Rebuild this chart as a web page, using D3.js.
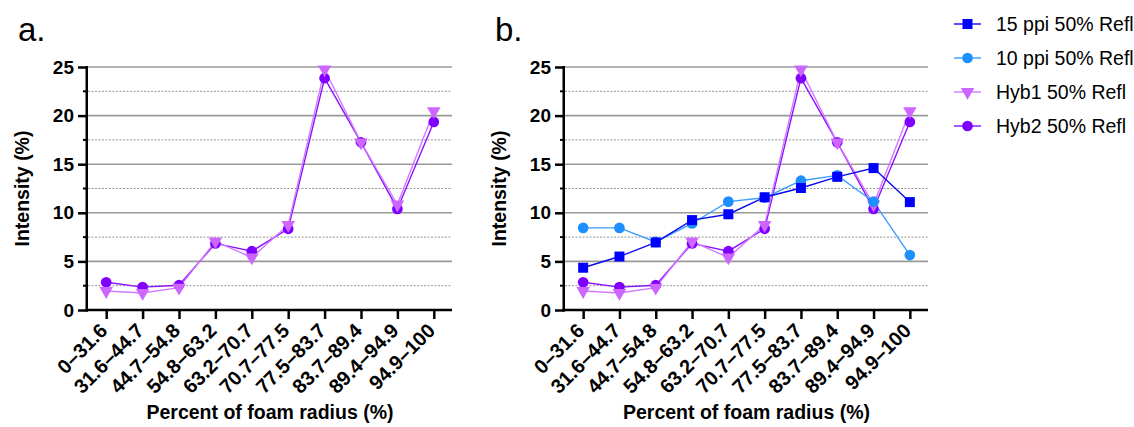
<!DOCTYPE html>
<html>
<head>
<meta charset="utf-8">
<script src="https://cdn.jsdelivr.net/npm/d3@7"></script>
<style>
  body { margin: 0; background: #fff; }
  svg text { font-family: "Liberation Sans", Arial, Helvetica, sans-serif; }
</style>
</head>
<body>
<svg id="chart" width="1134" height="427"></svg>
<script>
// bins of foam radius
const categories = ["0–31.6", "31.6–44.7", "44.7–54.8", "54.8–63.2", "63.2–70.7",
                    "70.7–77.5", "77.5–83.7", "83.7–89.4", "89.4–94.9", "94.9–100"];

const ppi15 = [4.35, 5.5, 6.95, 9.25, 9.85, 11.6, 12.55, 13.7, 14.6, 11.1];
const ppi10 = [8.45, 8.45, 7.0, 8.9, 11.15, 11.55, 13.3, 13.85, 11.15, 5.65];
const hyb1 = [1.95, 1.75, 2.3, 7.05, 5.4, 8.75, 24.75, 17.25, 10.85, 20.45];
const hyb2 = [2.85, 2.35, 2.55, 6.85, 6.05, 8.35, 23.85, 17.25, 10.4, 19.35];

const yTicks = [0, 5, 10, 15, 20, 25];
const yMinor = [2.5, 7.5, 12.5, 17.5, 22.5];

const series = [
  {name: "15 ppi 50% Refl", values: ppi15, fill: "#0000ff", line: "#0a0aee", shape: "square"},
  {name: "10 ppi 50% Refl", values: ppi10, fill: "#1e8fff", line: "#3a9dff", shape: "circle"},
  {name: "Hyb1 50% Refl", values: hyb1, fill: "#cc66ff", line: "#d27aff", shape: "triangle"},
  {name: "Hyb2 50% Refl", values: hyb2, fill: "#8000ff", line: "#8a10ff", shape: "circle"}
];

const svg = d3.select("#chart");

function symbolFor(shape) {
  if (shape === "square") return d3.symbol().type(d3.symbolSquare).size(100)();
  if (shape === "triangle") return d3.symbol().type(d3.symbolTriangle).size(80)();
  return d3.symbol().type(d3.symbolCircle).size(90)();
}

function drawPanel(label, left, right, list) {
  const top = 67, bottom = 310;
  const g = svg.append("g");

  const x = d3.scalePoint().domain(categories).range([left, right]).padding(0.5);
  const y = d3.scaleLinear().domain([0, 25]).range([bottom, top]);

  // gridlines
  g.selectAll(".minor").data(yMinor).enter().append("line")
    .attr("x1", left).attr("x2", right)
    .attr("y1", d => y(d)).attr("y2", d => y(d))
    .attr("stroke", "#777").attr("stroke-width", 0.8)
    .attr("stroke-dasharray", "2,1.5");
  g.selectAll(".major").data(yTicks.slice(1)).enter().append("line")
    .attr("x1", left).attr("x2", right)
    .attr("y1", d => y(d)).attr("y2", d => y(d))
    .attr("stroke", "#999").attr("stroke-width", 1.6);

  // y axis
  const ya = g.append("g").attr("transform", "translate(" + left + ",0)")
    .call(d3.axisLeft(y).tickValues(yTicks).tickSize(10).tickPadding(4));
  ya.select(".domain").remove();
  ya.selectAll("line").attr("stroke", "#000").attr("stroke-width", 2.5);
  ya.selectAll("text").attr("font-size", 19).attr("font-weight", "bold")
    .attr("font-family", "Liberation Sans, Arial, sans-serif").attr("fill", "#000");
  g.selectAll(".ymin").data(yMinor).enter().append("line")
    .attr("x1", left - 5).attr("x2", left)
    .attr("y1", d => y(d)).attr("y2", d => y(d))
    .attr("stroke", "#000").attr("stroke-width", 2);

  // x axis
  const xa = g.append("g").attr("transform", "translate(0," + bottom + ")")
    .call(d3.axisBottom(x).tickSize(9));
  xa.select(".domain").remove();
  xa.selectAll("line").attr("stroke", "#000").attr("stroke-width", 2.5);
  xa.selectAll("text")
    .attr("font-size", 20).attr("font-weight", "bold")
    .attr("font-family", "Liberation Sans, Arial, sans-serif").attr("fill", "#000")
    .attr("text-anchor", "end")
    .attr("x", 0).attr("y", 0).attr("dy", "0.35em")
    .attr("transform", "translate(-3,17) rotate(-45)");

  // axis lines
  g.append("line").attr("x1", left - 1.25).attr("x2", left - 1.25)
    .attr("y1", top - 1).attr("y2", bottom + 1.25)
    .attr("stroke", "#000").attr("stroke-width", 2.5);
  g.append("line").attr("x1", left - 2.5).attr("x2", right)
    .attr("y1", bottom).attr("y2", bottom)
    .attr("stroke", "#000").attr("stroke-width", 2.5);

  // titles
  g.append("text").attr("x", left - 70).attr("y", 41)
    .attr("font-size", 33).text(label);
  g.append("text")
    .attr("transform", "translate(" + (left - 59) + "," + ((top + bottom) / 2) + ") rotate(-90)")
    .attr("text-anchor", "middle").attr("font-size", 19.5).attr("font-weight", "bold")
    .text("Intensity (%)");
  g.append("text").attr("x", (left + right) / 2).attr("y", 419)
    .attr("text-anchor", "middle").attr("font-size", 19.5).attr("font-weight", "bold")
    .text("Percent of foam radius (%)");

  // series
  const line = d3.line().x((d, i) => x(categories[i])).y(d => y(d));
  list.forEach(s => {
    g.append("path").datum(s.values)
      .attr("d", line).attr("fill", "none")
      .attr("stroke", s.line).attr("stroke-width", 1.4);
  });
  list.forEach(s => {
    g.selectAll(null).data(s.values).enter().append("path")
      .attr("d", symbolFor(s.shape))
      .attr("transform", (d, i) => "translate(" + x(categories[i]) + "," + y(d) + ")" +
        (s.shape === "triangle" ? " rotate(180)" : ""))
      .attr("fill", s.fill);
  });
}

drawPanel("a.", 88, 452, [series[3], series[2]]);
drawPanel("b.", 565, 928, [series[3], series[2], series[1], series[0]]);

// legend
const legend = svg.append("g").selectAll("g").data(series).enter().append("g")
  .attr("transform", (d, i) => "translate(954," + (24 + i * 34) + ")");
legend.append("line").attr("x1", 0).attr("x2", 27)
  .attr("stroke", d => d.line).attr("stroke-width", 1.4);
legend.append("path")
  .attr("d", d => symbolFor(d.shape))
  .attr("transform", d => "translate(13.5,0)" + (d.shape === "triangle" ? " rotate(180)" : ""))
  .attr("fill", d => d.fill);
legend.append("text").attr("x", 42).attr("dy", "0.35em")
  .attr("font-size", 19.5).text(d => d.name);
</script>
</body>
</html>
